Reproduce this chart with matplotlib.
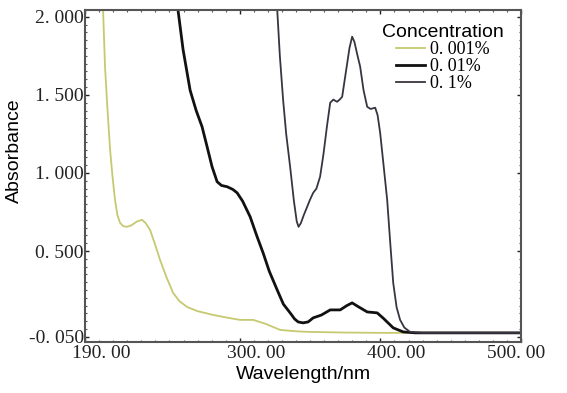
import numpy as np
import matplotlib
matplotlib.use("Agg")
import matplotlib.pyplot as plt
import matplotlib.transforms as mtransforms
from matplotlib.ticker import MultipleLocator

# 0.001 %
wl_low = [200, 202.8, 204.2, 206, 207.8, 209.5, 211.3, 213, 214.9, 217, 219.9, 223, 227, 230.5,
          233, 236.2, 239.5, 243.3, 248, 252.6, 257, 262.5, 270, 281, 290, 300.2, 309.5, 318,
          328.7, 340, 350, 375, 400, 500]
abs_low = [2.4, 2.05, 1.68, 1.40, 1.149, 0.98, 0.828, 0.73, 0.681, 0.66, 0.655, 0.665, 0.69, 0.70,
           0.68, 0.636, 0.55, 0.444, 0.33, 0.232, 0.18, 0.142, 0.115, 0.091, 0.075, 0.059, 0.059, 0.035,
           -0.005, -0.014, -0.018, -0.022, -0.024, -0.024]

# 0.01 %
wl_mid = [250, 256, 259.7, 264.7, 269, 273.2, 277, 280.3, 283.9, 287, 291, 295, 298.1, 302, 307.4,
          312, 316.6, 321, 326.6, 331, 335.8, 339, 341.5, 345, 348.6, 352.2, 358, 364.3, 371.4, 376,
          379.9, 384, 390.6, 397.7, 402, 409.1, 416.2, 425, 500]
abs_mid = [2.6, 2.05, 1.79, 1.53, 1.40, 1.296, 1.16, 1.04, 0.944, 0.92, 0.912, 0.895, 0.873, 0.82, 0.719,
           0.60, 0.488, 0.37, 0.251, 0.16, 0.104, 0.065, 0.046, 0.040, 0.046, 0.072, 0.09, 0.123, 0.123, 0.15,
           0.168, 0.145, 0.110, 0.104, 0.07, 0.008, -0.018, -0.024, -0.024]

# 0.1 %
wl_high = [322, 326.6, 328.5, 330.8, 333, 335.8, 338.5, 340.5, 341.8, 343.5, 345.5, 347.9, 350, 352.2,
           354.5, 357.1, 359.5, 362, 364.3, 366.5, 369.2, 371, 372.8, 375.5, 378, 379.9, 381.5, 383.5,
           385.6, 388, 390.6, 393, 396.3, 398, 399.8, 402, 404.8, 407, 409.1, 411.5, 414, 417, 421.1,
           430, 500]
abs_high = [2.6, 2.05, 1.75, 1.47, 1.25, 1.04, 0.82, 0.69, 0.655, 0.68, 0.73, 0.783, 0.83, 0.873,
            0.90, 0.976, 1.12, 1.30, 1.45, 1.47, 1.456, 1.47, 1.488, 1.65, 1.80, 1.873, 1.84, 1.76,
            1.681, 1.53, 1.424, 1.41, 1.418, 1.37, 1.258, 1.07, 0.828, 0.55, 0.296, 0.14, 0.059, 0.01, -0.018,
            -0.024, -0.024]

labels = ["0. 001%", "0. 01%", "0. 1%"]
xticks = [190, 300, 400, 500]
yticks = [-0.05, 0.5, 1.0, 1.5, 2.0]
xtick_labels = ["190. 00", "300. 00", "400. 00", "500. 00"]
ytick_labels = ["-0. 050", "0. 500", "1. 000", "1. 500", "2. 000"]

fig = plt.figure(figsize=(5.67, 3.93), dpi=100)
ax = fig.add_axes([0.150, 0.130, 0.769, 0.845])

ax.plot(wl_low, abs_low, color="#c6c970", lw=1.3, label=labels[0], solid_joinstyle="round")
ax.plot(wl_mid, abs_mid, color="#111111", lw=2.0, label=labels[1], solid_joinstyle="round")
ax.plot(wl_high, abs_high, color="#3a3440", lw=1.3, label=labels[2], solid_joinstyle="round")

ax.set_xlim(190, 500)
ax.set_ylim(-0.082, 2.045)
ax.set_xticks(xticks)
ax.set_xticklabels(xtick_labels, family="Liberation Serif", fontsize=14)
ax.set_yticks(yticks)
ax.set_yticklabels(ytick_labels, family="Liberation Serif", fontsize=14)
ax.xaxis.set_minor_locator(MultipleLocator(10))
ax.yaxis.set_minor_locator(MultipleLocator(0.05))
ax.tick_params(which="major", direction="in", length=3, width=1, colors="#222222",
               top=True, right=True)
ax.tick_params(axis="x", which="major", pad=2)
ax.tick_params(axis="y", which="major", pad=1)
ax.tick_params(which="minor", direction="in", length=1.5, width=0.8, top=True, right=True,
               colors="#555555")
for s in ax.spines.values():
    s.set_color("#555555")
    s.set_linewidth(1.5)

# the instrument software prints x labels starting just left of the tick
shift = mtransforms.ScaledTranslation(-13 / 100, 0, fig.dpi_scale_trans)
for lab in ax.get_xticklabels()[:-1]:
    lab.set_horizontalalignment("left")
    lab.set_transform(lab.get_transform() + shift)
last = ax.get_xticklabels()[-1]
last.set_transform(last.get_transform() + mtransforms.ScaledTranslation(-5 / 100, 0, fig.dpi_scale_trans))

ax.set_xlabel("Wavelength/nm", family="Liberation Sans", fontsize=14, labelpad=3)
ax.set_ylabel("Absorbance", family="Liberation Sans", fontsize=14)
ax.yaxis.set_label_coords(-0.142, 0.575)

leg = ax.legend(loc="upper left", bbox_to_anchor=(0.66, 0.985), frameon=False,
                title="Concentration", prop={"family": "Liberation Serif", "size": 13},
                labelspacing=0.0, handlelength=1.6, handletextpad=0.3, borderpad=0)
leg.get_title().set_fontfamily("Liberation Sans")
leg.get_title().set_fontsize(14)

fig.savefig("out.png", dpi=100)
